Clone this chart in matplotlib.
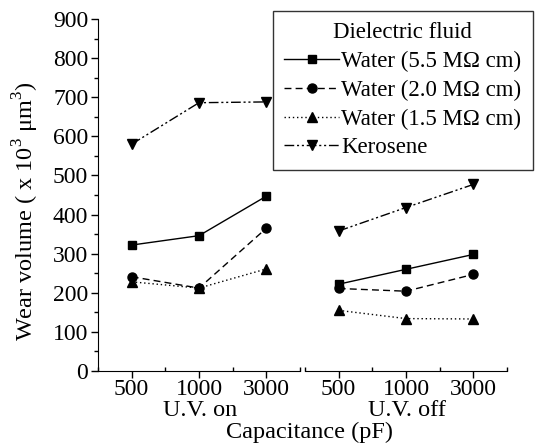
import matplotlib
matplotlib.use("Agg")
import matplotlib.pyplot as plt
from matplotlib.ticker import MultipleLocator

plt.rcParams['font.family'] = ['Liberation Serif', 'DejaVu Serif']
plt.rcParams['mathtext.fontset'] = 'custom'
plt.rcParams['mathtext.rm'] = 'Liberation Serif'

# data
capacitance = ['500', '1000', '3000']
series_names = ['Water (5.5 M\u03a9 cm)', 'Water (2.0 M\u03a9 cm)',
                'Water (1.5 M\u03a9 cm)', 'Kerosene']
uv_on = {
    'Water (5.5 M\u03a9 cm)': [322, 346, 447],
    'Water (2.0 M\u03a9 cm)': [241, 212, 365],
    'Water (1.5 M\u03a9 cm)': [228, 212, 261],
    'Kerosene': [580, 686, 688],
}
uv_off = {
    'Water (5.5 M\u03a9 cm)': [222, 260, 298],
    'Water (2.0 M\u03a9 cm)': [211, 204, 247],
    'Water (1.5 M\u03a9 cm)': [155, 134, 133],
    'Kerosene': [358, 418, 477],
}

styles = {
    'Water (5.5 M\u03a9 cm)': dict(ls='-', marker='s', ms=6),
    'Water (2.0 M\u03a9 cm)': dict(ls=(0, (5, 3)), marker='o', ms=6.5),
    'Water (1.5 M\u03a9 cm)': dict(ls=(0, (1, 2)), marker='^', ms=6.5),
    'Kerosene': dict(ls=(0, (7, 2, 1.5, 2, 1.5, 2)), marker='v', ms=6.5),
}

fig = plt.figure(figsize=(5.38, 4.46), dpi=100)
ax1 = fig.add_axes([98/538, 75/446, 202/538, 352/446])
ax2 = fig.add_axes([305/538, 75/446, 202/538, 352/446], sharey=ax1)

x = list(range(len(capacitance)))
handles = []
for name in series_names:
    st = styles[name]
    h, = ax1.plot(x, uv_on[name], color='black', lw=1, **st)
    ax2.plot(x, uv_off[name], color='black', lw=1, **st)
    handles.append(h)

for ax in (ax1, ax2):
    ax.set_xlim(-0.5, 2.5)
    ax.set_xticks(x)
    ax.set_xticklabels(capacitance, fontsize=17)
    ax.xaxis.set_minor_locator(MultipleLocator(0.5))
    ax.spines['top'].set_visible(False)
    ax.spines['right'].set_visible(False)
    ax.tick_params(axis='x', which='major', direction='out', length=5, width=1, pad=1)
    ax.tick_params(axis='x', which='minor', direction='in', length=3, width=1)
    ax.set_facecolor('none')

ax1.set_ylim(0, 900)
ax1.yaxis.set_major_locator(MultipleLocator(100))
ax1.yaxis.set_minor_locator(MultipleLocator(50))
ax1.tick_params(axis='y', which='major', direction='out', length=5, width=1, labelsize=17, pad=2)
ax1.tick_params(axis='y', which='minor', direction='out', length=3, width=1)
ax2.spines['left'].set_visible(False)
ax2.tick_params(axis='y', which='both', left=False, labelleft=False)

fig.text(200/538, 1 - 411/446, 'U.V. on', fontsize=17.5, ha='center', va='center')
fig.text(407/538, 1 - 410/446, 'U.V. off', fontsize=17.5, ha='center', va='center')
fig.text(310/538, 1 - 432/446, 'Capacitance (pF)', fontsize=17.5, ha='center', va='center')
fig.text(26/538, 1 - 211/446, 'Wear volume ( x 10$^{3}$ \u03bcm$^{3}$)', fontsize=17.5,
         rotation=90, ha='center', va='center')

leg = fig.legend(handles, series_names, title='Dielectric fluid', loc='upper right',
                 bbox_to_anchor=(533/538, 1 - 11/446), fontsize=16.5, title_fontsize=16.5,
                 frameon=True, fancybox=False, edgecolor='black', handlelength=2.4,
                 handletextpad=0.1, borderpad=0.5, labelspacing=0.33, borderaxespad=0)
leg.get_frame().set_linewidth(1)

fig.savefig('out.png', dpi=100)
